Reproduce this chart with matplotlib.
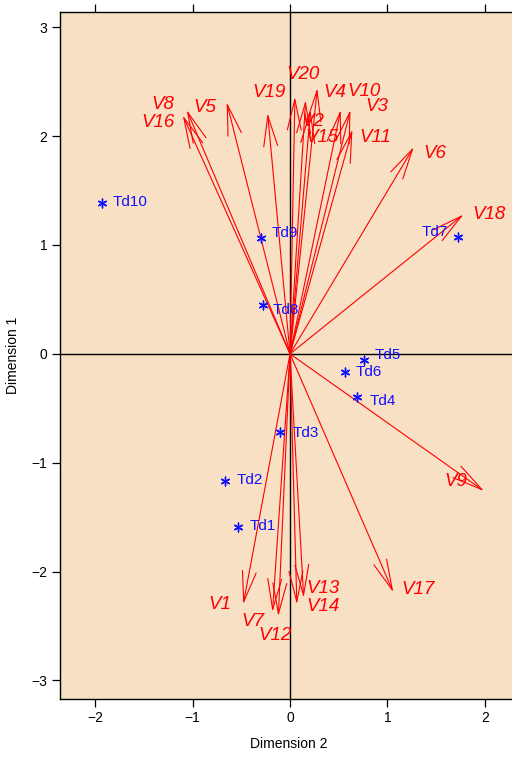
import matplotlib
matplotlib.use("Agg")
import matplotlib.pyplot as plt
from matplotlib import font_manager

# ---------------- data ----------------
var_names = ["V1", "V2", "V3", "V4", "V5", "V6", "V7", "V8", "V9", "V10",
             "V11", "V12", "V13", "V14", "V15", "V16", "V17", "V18", "V19", "V20"]
var_dim2 = [-0.48, 0.16, 0.62, 0.28, -0.65, 1.27, -0.18, -1.06, 1.99, 0.52,
            0.64, -0.12, 0.14, 0.07, 0.21, -1.10, 1.06, 1.78, -0.23, 0.05]
var_dim1 = [-2.30, 2.33, 2.24, 2.44, 2.31, 1.90, -2.37, 2.24, -1.26, 2.24,
            2.06, -2.41, -2.24, -2.30, 2.24, 2.19, -2.19, 1.28, 2.21, 2.36]

obs_names = ["Td1", "Td2", "Td3", "Td4", "Td5", "Td6", "Td7", "Td8", "Td9", "Td10"]
obs_dim2 = [-0.53, -0.67, -0.10, 0.69, 0.76, 0.56, 1.72, -0.28, -0.30, -1.93]
obs_dim1 = [-1.59, -1.17, -0.72, -0.40, -0.06, -0.17, 1.07, 0.45, 1.06, 1.39]

x_ticks = [-2, -1, 0, 1, 2]
y_ticks = [-3, -2, -1, 0, 1, 2, 3]

# ---------------- label placement (pixels) ----------------
var_label_offsets = {
    "V1": (-23, 0), "V2": (7, -21), "V3": (26, 3), "V4": (17, -4),
    "V5": (-22, -5), "V6": (21, -6), "V7": (-20, -10), "V8": (-24, 5),
    "V9": (-28, 10), "V10": (23, 18), "V11": (23, -8), "V12": (-3, -19),
    "V13": (19, 9), "V14": (26, -2), "V15": (12, -28), "V16": (-25, -7),
    "V17": (25, 3), "V18": (25, 0), "V19": (1, 21), "V20": (8, 22),
}
obs_label_offsets = {
    "Td1": (11, 1), "Td2": (12, 1), "Td3": (12, -1), "Td4": (12, -4),
    "Td5": (11, 5), "Td6": (11, 0), "Td8": (10, -5), "Td9": (11, 5),
    "Td10": (11, 1),
}

# ---------------- fonts ----------------
avail = {f.name for f in font_manager.fontManager.ttflist}
narrow = "Liberation Sans Narrow" if "Liberation Sans Narrow" in avail else "Liberation Sans"
plt.rcParams["font.family"] = ["Liberation Sans", "DejaVu Sans"]

W, H, DPI = 512, 757, 100
fig = plt.figure(figsize=(W / DPI, H / DPI), dpi=DPI)
ax = fig.add_axes([60 / W, 1 - 699 / H, (W - 60) / W + 0.01, (699 - 12) / H])

bg = "#F8E0C4"
ax.set_facecolor(bg)
ax.set_xlim(-2.36, 2.33)
ax.set_ylim(-3.17, 3.14)

ax.axhline(0, color="black", lw=1.0, zorder=1)
ax.axvline(0, color="black", lw=1.0, zorder=1)

red = "#FF0000"
blue = "#1010FF"

for name, x, y in zip(var_names, var_dim2, var_dim1):
    ax.annotate("", xy=(x, y), xytext=(0, 0),
                arrowprops=dict(arrowstyle="->,head_length=2.2,head_width=0.5",
                                color=red, lw=0.8, shrinkA=0, shrinkB=0,
                                mutation_scale=10),
                zorder=3)
    dx, dy = var_label_offsets[name]
    ax.annotate(name, xy=(x, y), xytext=(dx, dy), textcoords="offset pixels",
                ha="center", va="center", color=red, fontsize=13.5,
                fontstyle="italic", family=[narrow, "DejaVu Sans"], zorder=4)

ax.scatter(obs_dim2, obs_dim1, marker=(6, 2, 0), s=40, color=blue,
           linewidths=1.0, zorder=5)
for name, x, y in zip(obs_names, obs_dim2, obs_dim1):
    if name == "Td7":
        ax.annotate(name, xy=(x, y), xytext=(-10, 5), textcoords="offset pixels",
                    ha="right", va="center", color=blue, fontsize=11,
                    family=[narrow, "DejaVu Sans"], zorder=5)
    else:
        dx, dy = obs_label_offsets[name]
        ax.annotate(name, xy=(x, y), xytext=(dx, dy), textcoords="offset pixels",
                    ha="left", va="center", color=blue, fontsize=11,
                    family=[narrow, "DejaVu Sans"], zorder=5)

ax.set_xticks(x_ticks)
ax.set_yticks(y_ticks)
ax.set_xticklabels([("\u2212" + str(abs(v))) if v < 0 else str(v) for v in x_ticks])
ax.set_yticklabels([("\u2212" + str(abs(v))) if v < 0 else str(v) for v in y_ticks])
ax.tick_params(axis="both", direction="out", length=6, width=0.9, labelsize=10,
               top=True, right=False, pad=3)
for s in ax.spines.values():
    s.set_linewidth(1.0)
    s.set_color("black")
ax.spines["right"].set_visible(False)

ax.set_xlabel("Dimension 2", fontsize=10, labelpad=8)
ax.set_ylabel("Dimension 1", fontsize=10, labelpad=8)

fig.savefig("out.png", dpi=DPI, facecolor="white")
